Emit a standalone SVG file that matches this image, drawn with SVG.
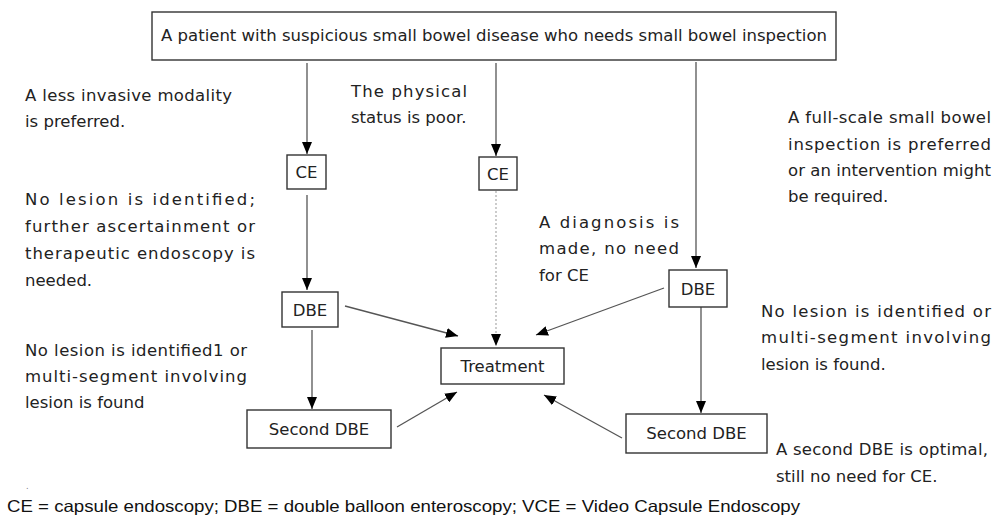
<svg xmlns="http://www.w3.org/2000/svg" width="994" height="517" viewBox="0 0 994 517">
<style>
.box{fill:#fff;stroke:#333;stroke-width:1.4}
.bt{font-family:"DejaVu Sans",Verdana,sans-serif;font-size:16.5px;fill:#222;text-anchor:middle}
.t{font-family:"DejaVu Sans",Verdana,sans-serif;font-size:16.5px;fill:#222}
.c{stroke:#555;stroke-width:1.3;fill:none;marker-end:url(#ah)}
.d{stroke:#aaa;stroke-width:1.2;stroke-dasharray:2 2;fill:none;marker-end:url(#ah)}
.f{font-family:"Liberation Sans",Arial,sans-serif;font-size:16.5px;fill:#111}
</style>
<defs>
<marker id="ah" markerUnits="userSpaceOnUse" markerWidth="12" markerHeight="10" refX="12" refY="5" orient="auto">
<path d="M0,0 L12,5 L0,10 Z" fill="#000"/>
</marker>
</defs>
<rect width="994" height="517" fill="#fff"/>
<g id="connectors">
<line class="c" x1="307" y1="63" x2="307" y2="154"/>
<line class="c" x1="496" y1="63" x2="496" y2="156"/>
<line class="c" x1="696" y1="62" x2="696" y2="268"/>
<line class="c" x1="307" y1="195" x2="307" y2="290"/>
<line class="d" x1="496" y1="191" x2="496" y2="346"/>
<line class="c" x1="345" y1="306" x2="458" y2="336"/>
<line class="c" x1="664" y1="288" x2="536" y2="335"/>
<line class="c" x1="312" y1="330" x2="312" y2="409"/>
<line class="c" x1="701" y1="307" x2="701" y2="413"/>
<line class="c" x1="397" y1="427" x2="457" y2="392"/>
<line class="c" x1="622" y1="438" x2="544" y2="395"/>
</g>
<g id="start">
<rect class="box" x="152" y="12" width="684" height="48"/>
<text class="bt" x="494" y="41" textLength="666" lengthAdjust="spacingAndGlyphs">A patient with suspicious small bowel disease who needs small bowel inspection</text>
</g>
<g id="ce1">
<rect class="box" x="287" y="155" width="39" height="34"/>
<text class="bt" x="306.5" y="178">CE</text>
</g>
<g id="ce2">
<rect class="box" x="479" y="157" width="38" height="33"/>
<text class="bt" x="498" y="180">CE</text>
</g>
<g id="dbe1">
<rect class="box" x="282" y="292" width="56" height="35"/>
<text class="bt" x="310" y="316">DBE</text>
</g>
<g id="dbe2">
<rect class="box" x="669" y="270" width="58" height="37"/>
<text class="bt" x="698" y="295">DBE</text>
</g>
<g id="treatment">
<rect class="box" x="441" y="348" width="123" height="36"/>
<text class="bt" x="502.5" y="372">Treatment</text>
</g>
<g id="second1">
<rect class="box" x="247" y="410" width="144" height="38"/>
<text class="bt" x="319" y="435">Second DBE</text>
</g>
<g id="second2">
<rect class="box" x="626" y="414" width="141" height="39"/>
<text class="bt" x="696.5" y="439">Second DBE</text>
</g>
<g id="labels">
<text class="t" x="25" y="101" textLength="207" lengthAdjust="spacing">A less invasive modality</text>
<text class="t" x="25" y="127">is preferred.</text>
<text class="t" x="25" y="205" textLength="230" lengthAdjust="spacing">No lesion is identified;</text>
<text class="t" x="25" y="232" textLength="230" lengthAdjust="spacing">further ascertainment or</text>
<text class="t" x="25" y="259" textLength="230" lengthAdjust="spacing">therapeutic endoscopy is</text>
<text class="t" x="25" y="286">needed.</text>
<text class="t" x="25" y="356" textLength="222" lengthAdjust="spacing">No lesion is identified1 or</text>
<text class="t" x="25" y="382" textLength="222" lengthAdjust="spacing">multi-segment involving</text>
<text class="t" x="25" y="408">lesion is found</text>
<text class="t" x="351" y="97" textLength="116" lengthAdjust="spacing">The physical</text>
<text class="t" x="351" y="123">status is poor.</text>
<text class="t" x="539" y="228" textLength="140" lengthAdjust="spacing">A diagnosis is</text>
<text class="t" x="539" y="254" textLength="140" lengthAdjust="spacing">made, no need</text>
<text class="t" x="539" y="281">for CE</text>
<text class="t" x="788" y="123" textLength="203" lengthAdjust="spacing">A full-scale small bowel</text>
<text class="t" x="788" y="150" textLength="203" lengthAdjust="spacing">inspection is preferred</text>
<text class="t" x="788" y="176" textLength="203" lengthAdjust="spacing">or an intervention might</text>
<text class="t" x="788" y="202">be required.</text>
<text class="t" x="761" y="317" textLength="230" lengthAdjust="spacing">No lesion is identified or</text>
<text class="t" x="761" y="343" textLength="230" lengthAdjust="spacing">multi-segment involving</text>
<text class="t" x="761" y="370">lesion is found.</text>
<text class="t" x="776" y="455" textLength="212" lengthAdjust="spacing">A second DBE is optimal,</text>
<text class="t" x="776" y="482">still no need for CE.</text>
<text class="t" x="26" y="489" style="font-size:8px;fill:#777">.</text>
</g>
<text class="f" x="7" y="512" textLength="793" lengthAdjust="spacingAndGlyphs">CE = capsule endoscopy; DBE = double balloon enteroscopy; VCE = Video Capsule Endoscopy</text>
</svg>
